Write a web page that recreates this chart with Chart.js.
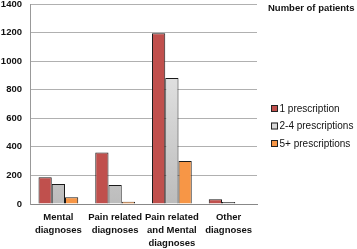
<!DOCTYPE html>
<html lang="en">
<head>
  <meta charset="UTF-8">
  <title>Number of patients</title>
  <script src="https://cdn.jsdelivr.net/npm/chart.js"></script>
  <style>
    body { margin: 0; background: #fff; }
    canvas { display: block; }
  </style>
</head>
<body>
  <canvas id="chart" width="357" height="249"></canvas>
  <script>
    // data
    const categories = [
      ['Mental', 'diagnoses'],
      ['Pain related', 'diagnoses'],
      ['Pain related', 'and Mental', 'diagnoses'],
      ['Other', 'diagnoses']
    ];
    const seriesNames = ['1 prescription', '2-4 prescriptions', '5+ prescriptions'];
    const onePrescription = [188, 360, 1195, 34];
    const twoToFour = [140, 133, 882, 14];
    const fivePlus = [47, 16, 301, 4];
    const yTicks = [0, 200, 400, 600, 800, 1000, 1200, 1400];
    const legendTitle = 'Number of patients';

    const font = "'Liberation Sans', Arial, sans-serif";
    const ctx = document.getElementById('chart').getContext('2d');

    function grayGrad(context) {
      const area = context.chart.chartArea;
      if (!area) return '#d9d9d9';
      const g = context.chart.ctx.createLinearGradient(0, area.top, 0, area.bottom);
      g.addColorStop(0, '#f4f4f4');
      g.addColorStop(1, '#bcbcbc');
      return g;
    }

    const legendColors = ['#c0504d', '#d9d9d9', '#f79646'];

    // legend drawn on the right, title at the top
    const sideLegend = {
      id: 'sideLegend',
      afterDraw(chart) {
        const c = chart.ctx;
        c.save();
        c.fillStyle = '#111';
        c.textBaseline = 'middle';
        c.font = 'bold 9.5px ' + font;
        c.fillText(legendTitle, 268, 8);
        c.font = '10px ' + font;
        seriesNames.forEach((name, i) => {
          const y = 108.5 + i * 17.5;
          c.fillStyle = legendColors[i];
          c.fillRect(271, y - 3.5, 7, 7);
          c.strokeStyle = '#222';
          c.lineWidth = 1;
          c.strokeRect(271.5, y - 3, 6, 6);
          c.fillStyle = '#111';
          c.fillText(name, 279.5, y + 0.5);
        });
        c.restore();
      }
    };

    new Chart(ctx, {
      type: 'bar',
      data: {
        labels: categories,
        datasets: [
          { label: seriesNames[0], data: onePrescription, backgroundColor: '#c0504d', borderColor: '#1a1a1a', borderWidth: 1 },
          { label: seriesNames[1], data: twoToFour, backgroundColor: grayGrad, borderColor: '#1a1a1a', borderWidth: 1 },
          { label: seriesNames[2], data: fivePlus, backgroundColor: '#f79646', borderColor: '#1a1a1a', borderWidth: 1 }
        ]
      },
      options: {
        responsive: false,
        animation: false,
        layout: { padding: { top: 4, right: 100, left: 0, bottom: 0 } },
        datasets: { bar: { barPercentage: 1, categoryPercentage: 0.7 } },
        plugins: { legend: { display: false }, tooltip: { enabled: false } },
        scales: {
          x: {
            grid: { display: false, drawTicks: false },
            border: { color: '#888' },
            ticks: {
              color: '#111', font: { family: font, size: 9.5, weight: 'bold', lineHeight: 1.35 },
              maxRotation: 0, autoSkip: false, padding: 7
            },
            afterFit(scale) { scale.height = 45; scale.paddingLeft = 0; scale.paddingRight = 0; }
          },
          y: {
            min: 0, max: 1400,
            afterBuildTicks(scale) { scale.ticks = yTicks.map(v => ({ value: v })); },
            grid: { color: '#b0b0b0', drawTicks: false },
            border: { color: '#999' },
            ticks: {
              color: '#111', font: { family: font, size: 9.5, weight: 'bold' }, padding: 8,
              callback: v => String(v)
            },
            afterFit(scale) { scale.width = 30; scale.paddingTop = 0; scale.paddingBottom = 0; }
          }
        }
      },
      plugins: [sideLegend]
    });
  </script>
</body>
</html>
